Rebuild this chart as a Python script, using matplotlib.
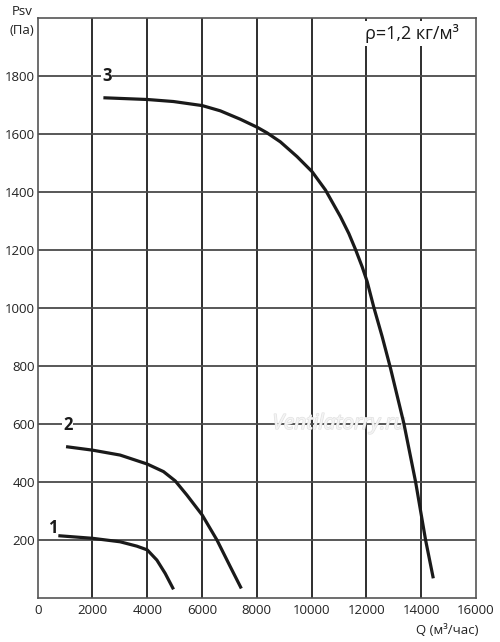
import matplotlib
matplotlib.use("Agg")
import matplotlib.pyplot as plt
import matplotlib.patheffects as pe

plt.rcParams['font.family'] = ['Open Sans', 'DejaVu Sans']

# curve data (Q in m3/h, Psv in Pa)
q1 = [753, 2000, 3009, 3619, 4000, 4350, 4654, 4958]
p1 = [216, 207, 195, 180, 167, 132, 86, 31]

q2 = [1035, 2000, 3009, 4000, 4592, 5020, 5447, 6007, 6544, 7031, 7433]
p2 = [523, 511, 494, 463, 437, 405, 356, 287, 201, 109, 34]

q3 = [2398, 4007, 4958, 6007, 6665, 7396, 8018, 8372, 8858, 9469, 10018,
      10504, 11052, 11357, 11601, 11845, 12027, 12271, 12576, 12880,
      13367, 13794, 14160, 14441]
p3 = [1726, 1720, 1713, 1699, 1681, 1652, 1624, 1605, 1574, 1523, 1471,
      1408, 1316, 1258, 1203, 1143, 1092, 1003, 902, 793,
      603, 402, 201, 69]

curve_labels = ['1', '2', '3']
label_pos = [(555, 242), (1097, 598), (2522, 1801)]

x_ticks = list(range(0, 16001, 2000))
y_ticks = list(range(200, 1801, 200))

fig = plt.figure(figsize=(5.0, 6.42), dpi=100)
ax = fig.add_axes([0.0754, 0.068, 0.8766, 0.9035])
ax.set_xlim(0, 16000)
ax.set_ylim(0, 2000)

for x in x_ticks[1:-1]:
    ax.axvline(x, color='#1e1e1e', lw=1.3, zorder=1)
for y in y_ticks:
    ax.axhline(y, color='#4a4a4a', lw=1.3, zorder=1)

for s in ax.spines.values():
    s.set_color('#555555')
    s.set_linewidth(1.2)

ax.set_xticks(x_ticks)
ax.set_xticklabels([str(v) for v in x_ticks])
ax.set_yticks(y_ticks)
ax.set_yticklabels([str(v) for v in y_ticks])
ax.tick_params(length=0, labelsize=9.5, colors='#222222', pad=4)
ax.tick_params(axis='y', pad=2)

for q, p in [(q1, p1), (q2, p2), (q3, p3)]:
    ax.plot(q, p, color='#1a1a1a', lw=2.3, solid_capstyle='butt',
            solid_joinstyle='round', zorder=3)

for lab, (lx, ly) in zip(curve_labels, label_pos):
    ax.text(lx, ly, lab, fontsize=12, fontweight='bold', ha='center', va='center',
            color='#1a1a1a', zorder=4,
            bbox=dict(facecolor='white', edgecolor='none', pad=0.5))

ax.text(0.96, 0.99, 'ρ=1,2 кг/м³', transform=ax.transAxes, fontsize=13,
        ha='right', va='top', color='#1a1a1a', zorder=4,
        bbox=dict(facecolor='white', edgecolor='none', pad=2.0))

ax.text(11000, 603, 'Ventilatorry.ru', fontsize=15, style='italic',
        ha='center', va='center', color='#f4f4f4', zorder=2,
        path_effects=[pe.withStroke(linewidth=1.0, foreground='#e2e2e2')])

fig.text(0.044, 0.982, 'Psv', fontsize=9.5, ha='center', va='center', color='#222222')
fig.text(0.044, 0.953, '(Па)', fontsize=9.5, ha='center', va='center', color='#222222')
fig.text(0.958, 0.018, 'Q (м³/час)', fontsize=9.5, ha='right', va='center', color='#222222')

fig.savefig('out.png', dpi=100, facecolor='white')
